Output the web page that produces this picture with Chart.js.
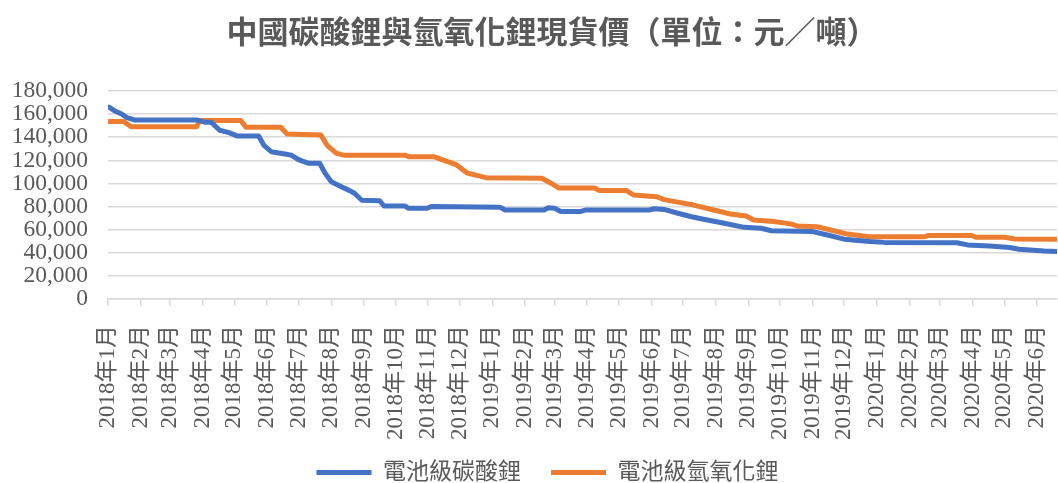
<!DOCTYPE html>
<html lang="zh-Hant">
<head>
<meta charset="UTF-8">
<title>中國碳酸鋰與氫氧化鋰現貨價</title>
<script src="https://cdn.jsdelivr.net/npm/chart.js"></script>
<style>
  html, body { margin: 0; padding: 0; background: #fff; }
  #wrap { width: 1058px; height: 483px; }
</style>
</head>
<body>
<div id="wrap"><canvas id="priceChart"></canvas></div>
<script>
// month tick labels on the date axis
const monthLabels = [
  '2018年1月', '2018年2月', '2018年3月', '2018年4月', '2018年5月', '2018年6月',
  '2018年7月', '2018年8月', '2018年9月', '2018年10月', '2018年11月', '2018年12月',
  '2019年1月', '2019年2月', '2019年3月', '2019年4月', '2019年5月', '2019年6月',
  '2019年7月', '2019年8月', '2019年9月', '2019年10月', '2019年11月', '2019年12月',
  '2020年1月', '2020年2月', '2020年3月', '2020年4月', '2020年5月', '2020年6月'
];

// 電池級碳酸鋰 (元/噸)
const carbonateDates = [
  '2018-01-02', '2018-01-07', '2018-01-14', '2018-01-19', '2018-01-26', '2018-03-26',
  '2018-04-03', '2018-04-09', '2018-04-17', '2018-04-26', '2018-05-04', '2018-05-24',
  '2018-05-29', '2018-06-05', '2018-06-18', '2018-06-24', '2018-06-30', '2018-07-04',
  '2018-07-10', '2018-07-21', '2018-07-26', '2018-08-01', '2018-08-11', '2018-08-18',
  '2018-08-23', '2018-08-30', '2018-09-16', '2018-09-20', '2018-10-10', '2018-10-13',
  '2018-10-31', '2018-11-04', '2019-01-08', '2019-01-13', '2019-02-19', '2019-02-23',
  '2019-03-01', '2019-03-07', '2019-03-26', '2019-03-30', '2019-05-30', '2019-06-03',
  '2019-06-13', '2019-06-27', '2019-07-09', '2019-07-24', '2019-08-09', '2019-08-28',
  '2019-09-13', '2019-09-23', '2019-10-31', '2019-11-15', '2019-12-01', '2019-12-25',
  '2020-01-08', '2020-03-17', '2020-03-27', '2020-04-17', '2020-05-06', '2020-05-15',
  '2020-06-08', '2020-06-20'
];
const carbonateValues = [
  166000, 163000, 160000, 157000, 155000, 155000,
  153000, 153000, 146000, 144000, 141000, 141000,
  133000, 127500, 125500, 124500, 121000, 119500,
  117500, 117500, 109000, 101500, 97000, 94000,
  91500, 85500, 85000, 80500, 80500, 78500,
  78500, 80000, 79500, 77000, 77000, 79000,
  78500, 75800, 75800, 77000, 77000, 78000,
  77500, 74000, 71200, 68400, 65500, 62000,
  61200, 59100, 58500, 55400, 51800, 49800,
  49000, 48700, 46800, 45800, 44500, 43000,
  41500, 41000
];

// 電池級氫氧化鋰 (元/噸)
const hydroxideDates = [
  '2018-01-02', '2018-01-16', '2018-01-23', '2018-03-26', '2018-03-29', '2018-05-07',
  '2018-05-12', '2018-06-14', '2018-06-20', '2018-07-22', '2018-07-28', '2018-08-06',
  '2018-08-13', '2018-10-10', '2018-10-14', '2018-11-07', '2018-11-16', '2018-11-28',
  '2018-12-08', '2018-12-17', '2018-12-26', '2019-02-17', '2019-02-26', '2019-03-05',
  '2019-04-08', '2019-04-12', '2019-05-08', '2019-05-15', '2019-06-06', '2019-06-13',
  '2019-06-22', '2019-07-11', '2019-07-30', '2019-08-15', '2019-08-30', '2019-09-06',
  '2019-09-25', '2019-10-11', '2019-10-17', '2019-11-05', '2019-11-18', '2019-12-04',
  '2019-12-25', '2020-02-15', '2020-02-19', '2020-03-31', '2020-04-04', '2020-05-01',
  '2020-05-11', '2020-06-20'
];
const hydroxideValues = [
  153500, 153500, 149000, 149000, 154500, 154500,
  148600, 148600, 142800, 142000, 133000, 126000,
  124500, 124500, 123000, 123000, 120000, 116000,
  109000, 107000, 105000, 104500, 100000, 96000,
  96000, 94000, 94000, 90000, 88500, 86000,
  84500, 81300, 77000, 73600, 71800, 68400,
  67000, 65000, 63200, 62600, 59700, 56200,
  53800, 53800, 55000, 55000, 53400, 53400,
  52000, 51800
];

const chartTitle = '中國碳酸鋰與氫氧化鋰現貨價（單位：元／噸）';
const seriesNames = ['電池級碳酸鋰', '電池級氫氧化鋰'];
const seriesColors = ['#4472C4', '#ED7D31'];
const textColor = '#595959';
const gridColor = '#D9D9D9';
const fontFamily = "'Liberation Serif', 'Noto Sans CJK TC', serif";

const base = Date.UTC(2018, 0, 1);
function dayOf(s) {
  const p = s.split('-').map(Number);
  return (Date.UTC(p[0], p[1] - 1, p[2]) - base) / 86400000;
}
function labelDay(lbl) {
  const m = lbl.match(/(\d+)年(\d+)月/);
  return (Date.UTC(+m[1], +m[2] - 1, 1) - base) / 86400000;
}
const tickDays = monthLabels.map(labelDay);
const toPoints = (dates, vals) => dates.map((d, i) => ({ x: dayOf(d), y: vals[i] }));
const xMax = dayOf(carbonateDates[carbonateDates.length - 1]);

// title drawn by hand so it can sit a bit right of centre, like the original
const titlePlugin = {
  id: 'titleText',
  afterLayout(chart) {
    // nudge legend to the right the same way
    chart.legend.left += 19;
    chart.legend.right += 19;
  },
  afterDraw(chart) {
    const ctx = chart.ctx;
    ctx.save();
    ctx.fillStyle = textColor;
    ctx.font = "bold 31px 'Noto Sans CJK TC', sans-serif";
    ctx.textAlign = 'center';
    ctx.textBaseline = 'middle';
    ctx.fillText(chartTitle, 552, 31);
    ctx.restore();
  }
};

new Chart(document.getElementById('priceChart'), {
  type: 'line',
  data: {
    datasets: [
      {
        label: seriesNames[0],
        data: toPoints(carbonateDates, carbonateValues),
        borderColor: seriesColors[0],
        backgroundColor: seriesColors[0],
        borderWidth: 5,
        borderCapStyle: 'round',
        borderJoinStyle: 'round',
        pointRadius: 0,
        tension: 0
      },
      {
        label: seriesNames[1],
        data: toPoints(hydroxideDates, hydroxideValues),
        borderColor: seriesColors[1],
        backgroundColor: seriesColors[1],
        borderWidth: 5,
        borderCapStyle: 'round',
        borderJoinStyle: 'round',
        pointRadius: 0,
        tension: 0
      }
    ]
  },
  plugins: [titlePlugin],
  options: {
    responsive: true,
    maintainAspectRatio: false,
    animation: false,
    layout: { padding: { left: 0, right: 1, top: 91, bottom: -11 } },
    plugins: {
      title: { display: false },
      legend: {
        position: 'bottom',
        labels: {
          color: textColor,
          font: { family: fontFamily, size: 23 },
          usePointStyle: true,
          pointStyle: 'line',
          pointStyleWidth: 55,
          padding: 30
        }
      },
      tooltip: { enabled: false }
    },
    scales: {
      x: {
        type: 'linear',
        min: 0,
        max: xMax,
        afterBuildTicks: s => { s.ticks = tickDays.map(v => ({ value: v })); },
        afterFit: s => {
          s.height = 132;
          s.paddingLeft = 0;
          s.paddingRight = 0;
          // long month labels run a little past the axis box, don't clip them
          s._computeLabelArea = () => null;
        },
        ticks: {
          callback: (v, i) => monthLabels[i],
          autoSkip: false,
          minRotation: 90,
          maxRotation: 90,
          padding: 19,
          color: textColor,
          font: { family: fontFamily, size: 23 }
        },
        grid: { drawOnChartArea: false, color: gridColor, lineWidth: 1.5, tickLength: 7 },
        border: { color: gridColor, width: 1.5 }
      },
      y: {
        min: 0,
        max: 180000,
        afterFit: s => { s.width = 108; },
        ticks: {
          stepSize: 20000,
          autoSkip: false,
          callback: v => v.toLocaleString('en-US'),
          padding: 20,
          color: textColor,
          font: { family: fontFamily, size: 23.5 }
        },
        grid: { color: gridColor, lineWidth: 1.5, drawTicks: false },
        border: { display: false }
      }
    }
  }
});
</script>
</body>
</html>
